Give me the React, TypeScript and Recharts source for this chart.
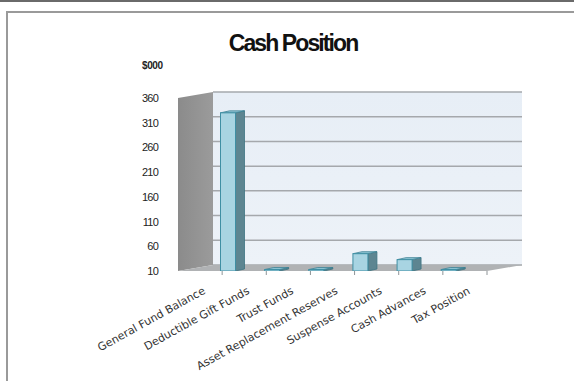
import React from 'react';
import { BarChart, Bar, XAxis, YAxis, ReferenceArea } from 'recharts';

const categories = [
  'General Fund Balance',
  'Deductible Gift Funds',
  'Trust Funds',
  'Asset Replacement Reserves',
  'Suspense Accounts',
  'Cash Advances',
  'Tax Position',
];
const values = [330, 13, 13, 45, 33, 13, 0];
const yTicks = [10, 60, 110, 160, 210, 260, 310, 360];
const Y_MIN = 10;
const Y_MAX = 360;

// depth of the fake 3d box (front plane -> back wall)
const DX = 35;
const DY = -6;

const data = categories.map((name, i) => ({ name, value: values[i] }));

const Walls = (props: any) => {
  const { x, y, width, height } = props;
  const bottom = y + height;
  const n = categories.length;
  const ticks = [];
  for (let i = 1; i <= n; i++) {
    const tx = x + (width * i) / n;
    ticks.push(<line key={i} x1={tx} y1={bottom} x2={tx} y2={bottom + 4} stroke="#8e9497" strokeWidth={1} />);
  }
  // grid lines on the back wall
  const grid = yTicks.map((v) => {
    const gy = y + (height * (Y_MAX - v)) / (Y_MAX - Y_MIN) + DY;
    return <line key={v} x1={x + DX} y1={gy} x2={x + width + DX} y2={gy} stroke="#a5a8ac" strokeWidth={1.5} />;
  });
  return (
    <g>
      <defs>
        <linearGradient id="backWall" x1="0" y1="0" x2="0" y2="1">
          <stop offset="0%" stopColor="#e7eef6" />
          <stop offset="100%" stopColor="#edf2f8" />
        </linearGradient>
        <linearGradient id="sideWall" x1="0" y1="0" x2="1" y2="0">
          <stop offset="0%" stopColor="#8b8b8b" />
          <stop offset="100%" stopColor="#9b9b9b" />
        </linearGradient>
      </defs>
      <rect x={x + DX} y={y + DY} width={width} height={height} fill="url(#backWall)" />
      {grid}
      <polygon
        points={`${x},${y} ${x + DX},${y + DY} ${x + DX},${bottom + DY} ${x},${bottom}`}
        fill="url(#sideWall)"
      />
      <polygon
        points={`${x},${bottom} ${x + width},${bottom} ${x + width + DX},${bottom + DY} ${x + DX},${bottom + DY}`}
        fill="#b0b2b4"
      />
      {ticks}
    </g>
  );
};

const Column = (props: any) => {
  const { x, y, width, height, payload } = props;
  if (!payload || !(payload.value > Y_MIN)) return null;
  const fx = x + 27.5;
  const top = y;
  const bot = y + height;
  const sx = 9;
  const sy = -2;
  return (
    <g>
      <polygon
        points={`${fx + width},${top} ${fx + width + sx},${top + sy} ${fx + width + sx},${bot + sy} ${fx + width},${bot}`}
        fill="#5d8591"
        stroke="#3e7382"
        strokeWidth={0.8}
      />
      <polygon
        points={`${fx},${top} ${fx + sx},${top + sy} ${fx + width + sx},${top + sy} ${fx + width},${top}`}
        fill="#8cc3d3"
        stroke="#3e8194"
        strokeWidth={0.8}
      />
      <rect x={fx} y={top} width={width} height={Math.max(bot - top, 1)} fill="#a8d4e2" stroke="#3f8fa4" strokeWidth={1} />
    </g>
  );
};

const XTick = (props: any) => {
  const { x, payload } = props;
  const tx = x + 6;
  const ty = 293;
  return (
    <text
      x={tx}
      y={ty}
      transform={`rotate(-29, ${tx}, ${ty})`}
      textAnchor="end"
      fontSize={11}
      fill="#333"
      fontFamily="DejaVu Sans, sans-serif"
    >
      {payload.value}
    </text>
  );
};

const YTick = (props: any) => {
  const { y, payload } = props;
  return (
    <text x={158} y={y + 4} textAnchor="end" fontSize={11} letterSpacing={-0.8} fill="#222" fontFamily="Liberation Sans, Arial, sans-serif">
      {payload.value}
    </text>
  );
};

export default function App() {
  return (
    <div style={{ position: 'absolute', left: 0, top: 0, width: 574, height: 381, background: '#fff', overflow: 'hidden' }}>
      <div style={{ position: 'absolute', left: 0, top: 0, width: 574, height: 2, background: '#6a6a6a' }} />
      <div style={{ position: 'absolute', left: 6, top: 11, width: 568, height: 2, background: '#9a9a9a' }} />
      <div style={{ position: 'absolute', left: 6, top: 11, width: 2, height: 370, background: '#9a9a9a' }} />
      <div
        style={{
          position: 'absolute',
          left: 0,
          width: 574,
          top: 30,
          textAlign: 'center',
          paddingLeft: 6,
          fontFamily: 'Liberation Sans, Arial, sans-serif',
          fontWeight: 'bold',
          fontSize: 23,
          letterSpacing: -1.9,
          color: '#111',
        }}
      >
        Cash Position
      </div>
      <div
        style={{
          position: 'absolute',
          left: 142,
          top: 60,
          fontFamily: 'Liberation Sans, Arial, sans-serif',
          fontWeight: 'bold',
          fontSize: 10,
          letterSpacing: -0.4,
          color: '#222',
        }}
      >
        $000
      </div>
      <div style={{ position: 'absolute', left: 0, top: 0 }}>
        <BarChart width={574} height={381} data={data} margin={{ top: 98, right: 87, bottom: 80, left: 138 }} barSize={15}>
          <ReferenceArea y1={Y_MIN} y2={Y_MAX} shape={<Walls />} fill="none" ifOverflow="visible" />
          <XAxis dataKey="name" height={30} axisLine={false} tickLine={false} interval={0} tick={<XTick />} />
          <YAxis width={40} domain={[Y_MIN, Y_MAX]} ticks={yTicks} axisLine={false} tickLine={false} tick={<YTick />} allowDataOverflow />
          <Bar dataKey="value" shape={<Column />} isAnimationActive={false} />
        </BarChart>
      </div>
    </div>
  );
}
